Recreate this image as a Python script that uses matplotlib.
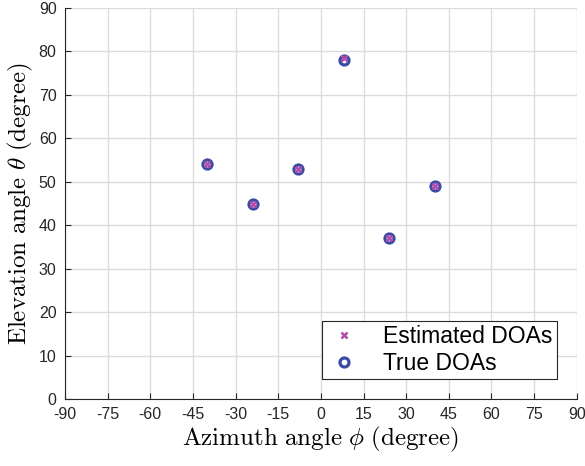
import matplotlib
matplotlib.use('Agg')
from matplotlib import pyplot as plt

# DOA positions (degrees)
true_az = [-40, -24, -8, 8, 24, 40]
true_el = [54, 45, 53, 78, 37, 49]
est_az = [-40, -24, -8, 8, 24, 40]
est_el = [54, 45, 53, 78.6, 37, 49]

xticks = list(range(-90, 91, 15))
yticks = list(range(0, 91, 10))

plt.rcParams['font.family'] = ['Liberation Sans', 'DejaVu Sans']
plt.rcParams['mathtext.fontset'] = 'cm'

fig = plt.figure(figsize=(5.85, 4.66), dpi=100)
ax = fig.add_axes([0.111, 0.1438, 0.875, 0.839])

ax.plot(est_az, est_el, 'x', color='#B44BA8', markersize=4, mew=1.8,
        label='Estimated DOAs', zorder=4)
ax.plot(true_az, true_el, 'o', mfc='none', mec='#3A4BA6', markersize=6.5, mew=2.3,
        label='True DOAs', zorder=3)

ax.set_xlim(-90, 90)
ax.set_ylim(0, 90)
ax.set_xticks(xticks)
ax.set_yticks(yticks)
ax.set_xticklabels([str(t) for t in xticks])
ax.tick_params(labelsize=11.5, direction='in', length=4, width=0.8,
               colors='#262626', pad=6)
ax.grid(True, color='#DCDCDC', linewidth=1.0)
ax.set_axisbelow(True)
for s in ['top', 'right']:
    ax.spines[s].set_visible(False)
for s in ['left', 'bottom']:
    ax.spines[s].set_color('#262626')
    ax.spines[s].set_linewidth(0.8)

ax.set_xlabel(r'$\mathrm{Azimuth\ angle}\ \phi\ \mathrm{(degree)}$', fontsize=18, labelpad=2)
ax.set_ylabel(r'$\mathrm{Elevation\ angle}\ \theta\ \mathrm{(degree)}$', fontsize=18, labelpad=3)

leg = ax.legend(loc='lower right', bbox_to_anchor=(0.962, 0.05), fontsize=16.5,
                fancybox=False, framealpha=1, edgecolor='#262626',
                handlelength=1.6, handletextpad=0.9, borderpad=0.2,
                labelspacing=0.15, borderaxespad=0)
leg.get_frame().set_linewidth(0.8)

plt.savefig('out.png', dpi=100)
